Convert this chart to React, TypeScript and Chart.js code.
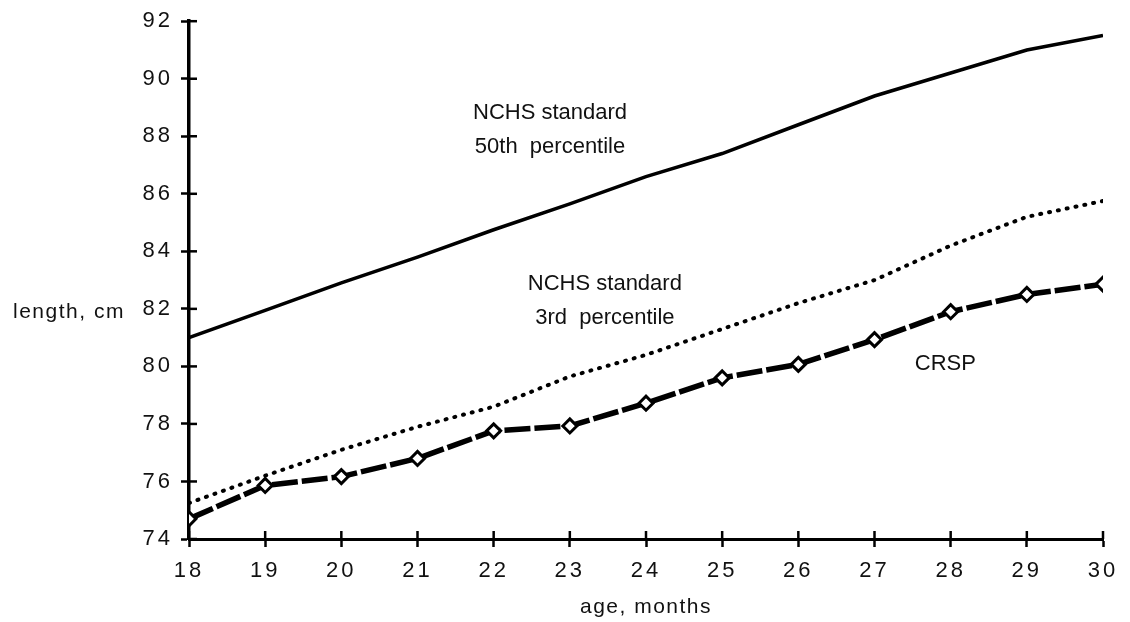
import React, { useEffect, useRef } from "react";
import { Chart, registerables } from "chart.js";

Chart.register(...registerables);

const ages = [18, 19, 20, 21, 22, 23, 24, 25, 26, 27, 28, 29, 30];
const nchs50 = [81.0, 81.95, 82.9, 83.8, 84.75, 85.65, 86.6, 87.4, 88.4, 89.4, 90.2, 91.0, 91.5];
const nchs3 = [75.25, 76.2, 77.1, 77.9, 78.6, 79.65, 80.4, 81.3, 82.2, 83.0, 84.2, 85.2, 85.75];
const crsp = [74.7, 75.86, 76.17, 76.8, 77.76, 77.93, 78.72, 79.6, 80.07, 80.93, 81.9, 82.5, 82.86];
const yTicks = [74, 76, 78, 80, 82, 84, 86, 88, 90, 92];

const notes = [
  { x: 22.74, y: 88.8, lines: ["NCHS standard", "50th  percentile"] },
  { x: 23.46, y: 82.85, lines: ["NCHS standard", "3rd  percentile"] },
  { x: 27.93, y: 80.1, lines: ["CRSP"] },
];

const FONT = "'Liberation Sans', Arial, sans-serif";
const TICK_SPACING = "3px";

const extras = {
  id: "extras",
  beforeDraw(chart: any) {
    (chart.ctx as any).letterSpacing = TICK_SPACING;
  },
  afterDraw(chart: any) {
    const ctx = chart.ctx;
    const xs = chart.scales.x;
    const ys = chart.scales.y;
    ctx.save();
    ctx.strokeStyle = "#000";
    ctx.lineWidth = 2.5;
    for (const v of yTicks) {
      const py = ys.getPixelForValue(v);
      ctx.beginPath();
      ctx.moveTo(xs.left, py);
      ctx.lineTo(xs.left + 8, py);
      ctx.stroke();
    }
    for (const a of ages) {
      const px = xs.getPixelForValue(a);
      ctx.beginPath();
      ctx.moveTo(px, ys.bottom);
      ctx.lineTo(px, ys.bottom - 8);
      ctx.stroke();
    }
    ctx.fillStyle = "#111";
    ctx.textAlign = "center";
    ctx.textBaseline = "middle";
    (ctx as any).letterSpacing = "0px";
    ctx.font = `22px ${FONT}`;
    for (const n of notes) {
      const px = xs.getPixelForValue(n.x);
      const py = ys.getPixelForValue(n.y);
      n.lines.forEach((t, i) => ctx.fillText(t, px, py + i * 34));
    }
    ctx.font = `21px ${FONT}`;
    (ctx as any).letterSpacing = "1.5px";
    ctx.textAlign = "left";
    ctx.fillText("length, cm", 13, ys.getPixelForValue(81.9));
    ctx.textAlign = "center";
    ctx.fillText("age, months", (xs.left + xs.right) / 2, 607);
    (ctx as any).letterSpacing = TICK_SPACING;
    ctx.restore();
  },
};

export default function App() {
  const ref = useRef<HTMLCanvasElement | null>(null);
  useEffect(() => {
    if (!ref.current) return;
    const toPts = (vals: number[]) => ages.map((a, i) => ({ x: a, y: vals[i] }));
    const chart = new Chart(ref.current, {
      type: "line",
      data: {
        datasets: [
          {
            label: "NCHS standard 50th percentile",
            data: toPts(nchs50),
            borderColor: "#000",
            borderWidth: 3.5,
            pointRadius: 0,
            tension: 0,
          },
          {
            label: "NCHS standard 3rd percentile",
            data: toPts(nchs3),
            borderColor: "#000",
            borderWidth: 4,
            borderDash: [1, 8],
            borderCapStyle: "round",
            pointRadius: 0,
            tension: 0,
          },
          {
            label: "CRSP",
            data: toPts(crsp),
            borderColor: "#000",
            borderWidth: 5.5,
            borderDash: [26, 4],
            pointStyle: "rectRot",
            pointRadius: 7,
            pointBorderWidth: 3,
            pointBackgroundColor: "#fff",
            pointBorderColor: "#000",
            tension: 0,
          },
        ],
      },
      options: {
        animation: false,
        responsive: true,
        maintainAspectRatio: false,
        layout: { padding: { top: 17, right: 27, left: 0, bottom: 0 } },
        plugins: { legend: { display: false }, tooltip: { enabled: false } },
        scales: {
          x: {
            type: "linear",
            min: 18,
            max: 30,
            afterFit: (s: any) => {
              s.height = 83;
            },
            afterBuildTicks: (s: any) => {
              s.ticks = ages.map((v) => ({ value: v }));
            },
            ticks: {
              color: "#111",
              font: { family: FONT, size: 22 },
              padding: 11,
              maxRotation: 0,
              autoSkip: false,
            },
            grid: {
              drawOnChartArea: false,
              drawTicks: true,
              tickLength: 8,
              tickWidth: 2.5,
              tickColor: "#000",
            },
            border: { display: true, color: "#000", width: 3 },
          },
          y: {
            type: "linear",
            min: 74,
            max: 92,
            afterFit: (s: any) => {
              s.width = 189;
            },
            afterBuildTicks: (s: any) => {
              s.ticks = yTicks.map((v) => ({ value: v }));
            },
            ticks: {
              color: "#111",
              font: { family: FONT, size: 22 },
              padding: 8,
            },
            grid: {
              drawOnChartArea: false,
              drawTicks: true,
              tickLength: 8,
              tickWidth: 2.5,
              tickColor: "#000",
            },
            border: { display: true, color: "#000", width: 3.5 },
          },
        },
      },
      plugins: [extras],
    });
    return () => chart.destroy();
  }, []);
  return (
    <div style={{ position: "fixed", left: 0, top: 0, width: 1130, height: 622, background: "#fff" }}>
      <canvas ref={ref} />
    </div>
  );
}
